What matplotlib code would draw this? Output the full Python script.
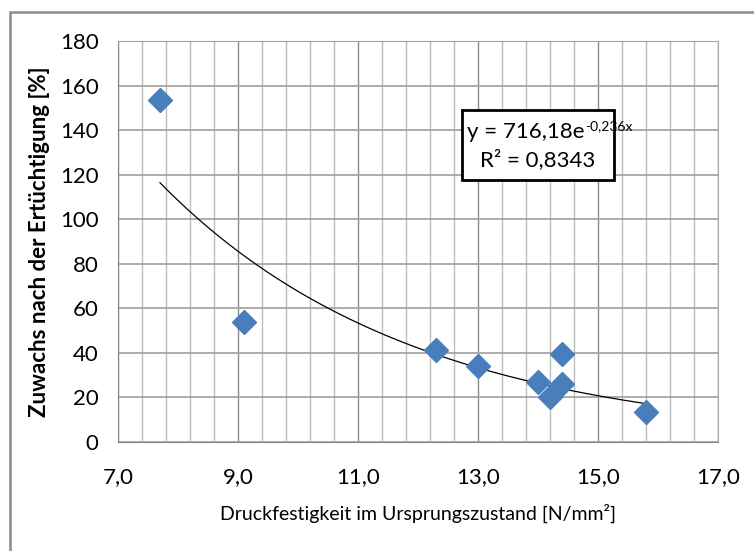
import numpy as np
import matplotlib.pyplot as plt
from matplotlib.ticker import FixedLocator, FuncFormatter
from matplotlib.patches import Rectangle

plt.rcParams['font.family'] = ['Lato', 'DejaVu Sans']

# strength before / gain after retrofit
festigkeit = [7.7, 9.1, 12.3, 13.0, 14.0, 14.2, 14.4, 14.4, 15.8]
zuwachs = [153.5, 54, 41.5, 34, 27, 20, 39.5, 26, 13.5]

# exponential trendline as shown in the chart
a_fit = 716.18
b_fit = -0.236

fig = plt.figure(figsize=(7.54, 5.51), dpi=100)
W, H = 754, 551
ax = fig.add_axes([118/W, 1 - 442/H, 600/W, 401/H])

# chart area border
fig.patches.append(Rectangle((10/W, -0.1), 1.2, 1.1 - 12/H, transform=fig.transFigure,
                             fill=False, edgecolor='#8c8c8c', lw=1.8))

ax.set_xlim(7, 17)
ax.set_ylim(0, 180)
ax.xaxis.set_major_locator(FixedLocator(np.arange(7, 17.01, 2)))
ax.xaxis.set_minor_locator(FixedLocator(np.arange(7, 17.01, 0.4)))
ax.yaxis.set_major_locator(FixedLocator(np.arange(0, 181, 20)))
ax.xaxis.set_major_formatter(FuncFormatter(lambda v, p: ('%.1f' % v).replace('.', ',')))
ax.grid(which='major', axis='x', color='#8a8a8a', lw=1.0)
ax.grid(which='minor', axis='x', color='#bdbdbd', lw=1.0)
ax.grid(which='major', axis='y', color='#a6a6a6', lw=1.3)
ax.set_axisbelow(True)
for s in ax.spines.values():
    s.set_color('#a6a6a6')
ax.spines['left'].set_color('#8a8a8a')
ax.spines['bottom'].set_color('#8a8a8a')
ax.tick_params(which='both', length=0, labelsize=16, colors='black')
ax.tick_params(axis='x', pad=18)
ax.tick_params(axis='y', pad=14)

xs = np.linspace(min(festigkeit), max(festigkeit), 200)
ax.plot(xs, a_fit * np.exp(b_fit * xs), color='black', lw=0.9, zorder=2)
ax.plot(festigkeit, zuwachs, 'D', color='#4a7ebb', markersize=12, zorder=3)

ax.set_xlabel('Druckfestigkeit im Ursprungszustand [N/mm²]', fontsize=14, labelpad=12)
ax.set_ylabel('Zuwachs nach der Ertüchtigung [%]', fontsize=16, fontweight='bold', labelpad=7)

# equation box
fig.patches.append(Rectangle((462/W, 1 - 180/H), 152/W, 70/H, transform=fig.transFigure,
                             facecolor='white', edgecolor='black', lw=2, zorder=5))
t1 = fig.text(467/W, 1 - 138/H, 'y = 716,18e', fontsize=16, ha='left', va='baseline', zorder=6)
fig.canvas.draw()
bb = t1.get_window_extent()
fig.text(bb.x1 / W + 1/W, 1 - 130/H, '-0,236x', fontsize=10, ha='left', va='baseline', zorder=6)
fig.text(538/W, 1 - 166/H, 'R² = 0,8343', fontsize=16, ha='center', va='baseline', zorder=6)

fig.savefig('out.png', dpi=100)
